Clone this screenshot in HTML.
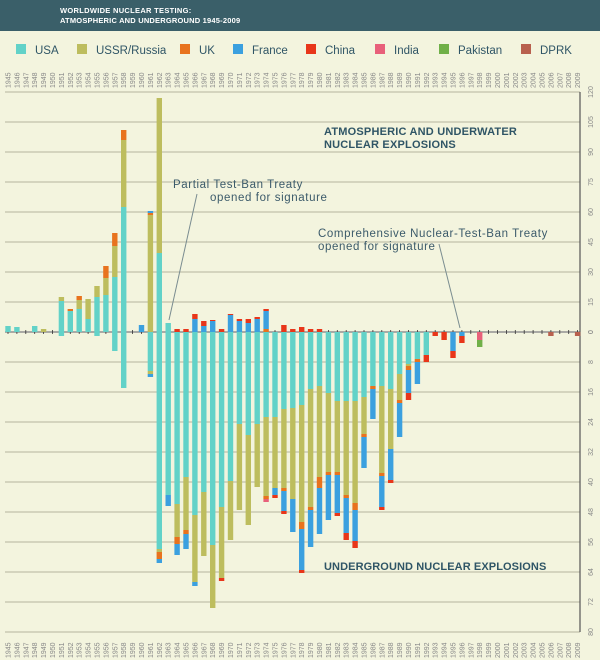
<!DOCTYPE html>
<html><head><meta charset="utf-8"><style>
body{margin:0;background:#f3f4de;}
svg{display:block;font-family:"Liberation Sans",sans-serif;}
</style></head><body>
<svg id="s" width="600" height="660" xmlns="http://www.w3.org/2000/svg">
<rect width="600" height="660" fill="#f3f4de"/>
<rect width="600" height="31" fill="#3a5f69"/>
<text x="60" y="13" fill="#fff" font-size="7.5" font-weight="bold" letter-spacing="0.3">WORLDWIDE NUCLEAR TESTING:</text>
<text x="60" y="23" fill="#fff" font-size="7.5" font-weight="bold" letter-spacing="0.2">ATMOSPHERIC AND UNDERGROUND 1945-2009</text>
<g id="g"></g>
<text x="324" y="135" fill="#2f5566" font-size="11" font-weight="bold" letter-spacing="0.2">ATMOSPHERIC AND UNDERWATER</text>
<text x="324" y="148" fill="#2f5566" font-size="11" font-weight="bold" letter-spacing="0.2">NUCLEAR EXPLOSIONS</text>
<text x="324" y="570" fill="#2f5566" font-size="11" font-weight="bold" letter-spacing="0.1">UNDERGROUND NUCLEAR EXPLOSIONS</text>
<text x="173" y="188" fill="#3b5a6a" font-size="11.5" letter-spacing="0.6">Partial Test-Ban Treaty</text>
<text x="210" y="201" fill="#3b5a6a" font-size="11.5" letter-spacing="0.6">opened for signature</text>
<line x1="197" y1="194" x2="169" y2="320" stroke="#7a8c90" stroke-width="1"/>
<text x="318" y="237" fill="#3b5a6a" font-size="11.5" letter-spacing="0.6">Comprehensive Nuclear-Test-Ban Treaty</text>
<text x="318" y="250" fill="#3b5a6a" font-size="11.5" letter-spacing="0.6">opened for signature</text>
<line x1="439" y1="244" x2="460" y2="328" stroke="#7a8c90" stroke-width="1"/>
</svg>
<script>
var C={U:"#62d2c8",R:"#bdbd5e",K:"#e8731e",F:"#3ba0df",C:"#e8361a",I:"#e8607a",P:"#70b048",D:"#b8604e"};
var g=document.getElementById("g"),h="";
var L=[["USA","U",16],["USSR/Russia","R",77],["UK","K",180],["France","F",233],["China","C",306],["India","I",375],["Pakistan","P",439],["DPRK","D",521]];
L.forEach(function(l){h+='<rect x="'+l[2]+'" y="44" width="10" height="10" fill="'+C[l[1]]+'"/><text x="'+(l[2]+19)+'" y="54" font-size="11.5" fill="#2f5566">'+l[0]+'</text>';});
for(var i=0;i<=8;i++){var y=92+30*i;h+='<line x1="5" y1="'+y+'" x2="580" y2="'+y+'" stroke="#c9c9b3" stroke-width="1.5"/>';
h+='<text transform="translate(593,'+y+') rotate(-90)" font-size="7" fill="#888" text-anchor="middle">'+(120-15*i)+'</text>';}
for(var i=1;i<=10;i++){var y=332+30*i;h+='<line x1="5" y1="'+y+'" x2="580" y2="'+y+'" stroke="#c9c9b3" stroke-width="1.5"/>';
h+='<text transform="translate(593,'+y+') rotate(-90)" font-size="7" fill="#888" text-anchor="middle">'+(8*i)+'</text>';}
h+='<line x1="5" y1="332" x2="580" y2="332" stroke="#999" stroke-width="1.5"/>';
h+='<text transform="translate(593,332) rotate(-90)" font-size="7" fill="#888" text-anchor="middle">0</text>';
h+='<line x1="580" y1="92" x2="580" y2="632" stroke="#555" stroke-width="1.2"/>';
function X(yr){return 8+8.9*(yr-1945);}
for(var yr=1945;yr<=2009;yr++){var x=X(yr);
h+='<line x1="'+x+'" y1="330" x2="'+x+'" y2="334" stroke="#333" stroke-width="0.8"/>';
h+='<text transform="translate('+(x+2.5)+',88) rotate(-90)" font-size="7" fill="#888">'+yr+'</text>';
h+='<text transform="translate('+(x+2.5)+',658) rotate(-90)" font-size="7" fill="#888">'+yr+'</text>';}
var A={1945:"U6",1946:"U5",1948:"U6",1949:"R3",1951:"U31 R4",1952:"U21 K2",1953:"U23 R9 K4",1954:"U13 R20",1955:"U35 R11",1956:"U37 R17 K12",1957:"U55 R31 K13",1958:"U125 R67 K10",1960:"F7",1961:"R117 K2 F2",1962:"U79 R155",1963:"U9",1964:"C3",1965:"C3",1966:"F13 C5",1967:"F6 C5",1968:"F11 C1",1969:"C3",1970:"F17 C1",1971:"F11 C2",1972:"F9 C4",1973:"F13 C2",1974:"K3 F18 C2",1976:"C7",1977:"C3",1978:"C5",1979:"C3",1980:"C3"};
var B={1951:"U4",1955:"U4",1957:"U19",1958:"U56",1961:"U39 R3 F3",1962:"U217 R3 K7 F4",1963:"U163 F11",1964:"U172 R33 K7 F11",1965:"U145 R53 K4 F15",1966:"U183 R67 F4",1967:"U160 R64",1968:"U213 R63",1969:"U175 R71 C3",1970:"U149 R59",1971:"U92 R86",1972:"U103 R90",1973:"U92 R63",1974:"U85 R79 K3 I3",1975:"U85 R71 F7 C3",1976:"U77 R79 K3 F20 C3",1977:"U76 R91 F33",1978:"U73 R117 K7 F41 C3",1979:"U57 R118 K3 F37",1980:"U54 R91 K11 F46",1981:"U61 R79 K3 F45",1982:"U69 R71 K3 F38 C3",1983:"U69 R94 K3 F35 C7",1984:"U69 R102 K7 F31 C7",1985:"U65 R37 K3 F31",1986:"U54 K3 F30",1987:"U54 R87 K3 F31 C3",1988:"U57 R60 F31 C3",1989:"U42 R26 K3 F34",1990:"U32 R2 K4 F23 C7",1991:"U27 K3 F22",1992:"U23 C7",1993:"C4",1994:"C8",1995:"F19 C7",1996:"F4 C7",1998:"I8 P7",2006:"D4",2009:"D4"};
function bars(o,dir){for(var k in o){var x=X(+k)-2.7,y=332;o[k].split(" ").forEach(function(s){var c=C[s[0]],v=+s.slice(1);
var yy=dir<0?y-v:y;h+='<rect x="'+x.toFixed(1)+'" y="'+yy+'" width="5.4" height="'+v+'" fill="'+c+'"/>';y+=dir*v;});}}
bars(A,-1);bars(B,1);
g.innerHTML=h;
</script>
</body></html>
